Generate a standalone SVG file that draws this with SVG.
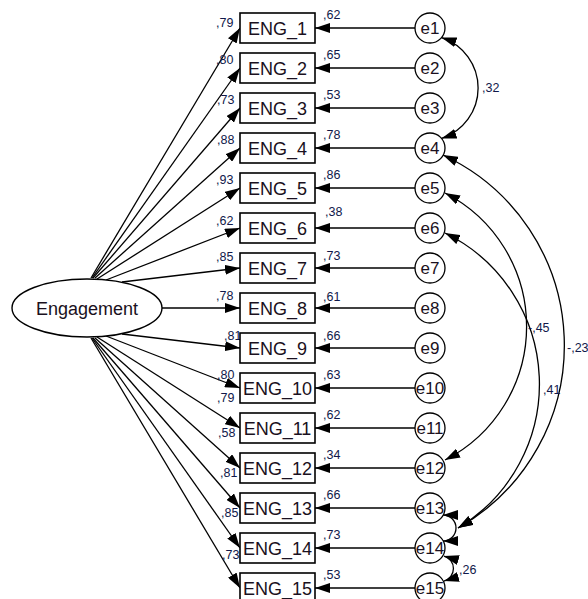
<svg xmlns="http://www.w3.org/2000/svg" width="588" height="599" viewBox="0 0 588 599">
<style>
.bg{fill:#fff}
.ln{stroke:#000;stroke-width:1.3;fill:none}
.box{fill:#fff;stroke:#000;stroke-width:1.6}
.err{fill:#fff;stroke:#000;stroke-width:1.3}
.lat{fill:#fff;stroke:#000;stroke-width:1.4}
.nm{font-family:"Liberation Sans",Arial,sans-serif;font-size:18px;fill:#1a1020;text-anchor:middle}
.en{font-family:"Liberation Sans",Arial,sans-serif;font-size:17px;fill:#1a1020;text-anchor:middle}
.v{font-family:"Liberation Sans",Arial,sans-serif;font-size:12.5px;fill:#10184a}
</style>
<defs>
<marker id="ah" viewBox="0 0 15 10" refX="15" refY="5" markerWidth="15" markerHeight="10" markerUnits="userSpaceOnUse" orient="auto-start-reverse">
<path d="M0,0 L15,5 L0,10 z" fill="#000"/>
</marker>
</defs>
<rect class="bg" x="0" y="0" width="588" height="599"/>
<g id="connectors">
<g id="loadings" class="ln" marker-end="url(#ah)">
<path d="M91,278 L240,28"/>
<path d="M92,278 L240,68"/>
<path d="M93,278 L240,108"/>
<path d="M95,278 L240,148"/>
<path d="M97,279 L240,188"/>
<path d="M106,280 L240,228"/>
<path d="M122,282 L240,268"/>
<path d="M162,308 L240,308"/>
<path d="M122,334 L240,348"/>
<path d="M106,336 L240,388"/>
<path d="M97,337 L240,428"/>
<path d="M95,338 L240,468"/>
<path d="M93,338 L240,508"/>
<path d="M92,338 L240,548"/>
<path d="M91,338 L240,588"/>
</g>
<g id="errors" class="ln" marker-end="url(#ah)">
<path d="M415,28 L315,28"/>
<path d="M415,68 L315,68"/>
<path d="M415,108 L315,108"/>
<path d="M415,148 L315,148"/>
<path d="M415,188 L315,188"/>
<path d="M415,228 L315,228"/>
<path d="M415,268 L315,268"/>
<path d="M415,308 L315,308"/>
<path d="M415,348 L315,348"/>
<path d="M415,388 L315,388"/>
<path d="M415,428 L315,428"/>
<path d="M415,468 L315,468"/>
<path d="M415,508 L315,508"/>
<path d="M415,548 L315,548"/>
<path d="M415,588 L315,588"/>
</g>
<g id="covariances" class="ln" marker-start="url(#ah)" marker-end="url(#ah)">
<path d="M441.5,37.6 A53,53 0 0 1 441.5,138.4"/>
<path d="M443,155 A210,210 0 0 1 458,528"/>
<path d="M445,193 A150,150 0 0 1 445,460"/>
<path d="M445,233 A168,168 0 0 1 458,528"/>
<path d="M443,515 A13,13 0 0 1 443,541"/>
<path d="M444,556 A13,13 0 0 1 444,581"/>
</g>
<g id="coef-labels">
<text class="v" x="482" y="92">,32</text>
<text class="v" x="528" y="332">-,45</text>
<text class="v" x="543" y="394">,41</text>
<text class="v" x="567" y="352">-,23</text>
<text class="v" x="459" y="574">,26</text>
</g>
<g id="loading-labels">
<text class="v" x="216" y="27">,79</text>
<text class="v" x="216" y="64">,80</text>
<text class="v" x="217" y="104">,73</text>
<text class="v" x="217" y="144">,88</text>
<text class="v" x="216" y="184">,93</text>
<text class="v" x="216" y="225">,62</text>
<text class="v" x="216" y="261">,85</text>
<text class="v" x="216" y="300">,78</text>
<text class="v" x="224" y="340">,81</text>
<text class="v" x="217" y="379">,80</text>
<text class="v" x="217" y="402">,79</text>
<text class="v" x="218" y="437">,58</text>
<text class="v" x="220" y="477">,81</text>
<text class="v" x="221" y="517">,85</text>
<text class="v" x="222" y="559">,73</text>
</g>
</g>
<g id="Engagement">
<ellipse class="lat" cx="87" cy="308" rx="75" ry="29"/>
<text class="nm" x="87" y="314.5">Engagement</text>
</g>
<g id="ENG_1"><rect class="box" x="240" y="13" width="75" height="30"/><text class="nm" x="277.5" y="34.5">ENG_1</text><text class="v" x="323" y="19">,62</text></g>
<g id="ENG_2"><rect class="box" x="240" y="53" width="75" height="30"/><text class="nm" x="277.5" y="74.5">ENG_2</text><text class="v" x="323" y="59">,65</text></g>
<g id="ENG_3"><rect class="box" x="240" y="93" width="75" height="30"/><text class="nm" x="277.5" y="114.5">ENG_3</text><text class="v" x="323" y="99">,53</text></g>
<g id="ENG_4"><rect class="box" x="240" y="133" width="75" height="30"/><text class="nm" x="277.5" y="154.5">ENG_4</text><text class="v" x="323" y="139">,78</text></g>
<g id="ENG_5"><rect class="box" x="240" y="173" width="75" height="30"/><text class="nm" x="277.5" y="194.5">ENG_5</text><text class="v" x="323" y="179">,86</text></g>
<g id="ENG_6"><rect class="box" x="240" y="213" width="75" height="30"/><text class="nm" x="277.5" y="234.5">ENG_6</text><text class="v" x="325" y="216">,38</text></g>
<g id="ENG_7"><rect class="box" x="240" y="253" width="75" height="30"/><text class="nm" x="277.5" y="274.5">ENG_7</text><text class="v" x="323" y="260">,73</text></g>
<g id="ENG_8"><rect class="box" x="240" y="293" width="75" height="30"/><text class="nm" x="277.5" y="314.5">ENG_8</text><text class="v" x="323" y="301">,61</text></g>
<g id="ENG_9"><rect class="box" x="240" y="333" width="75" height="30"/><text class="nm" x="277.5" y="354.5">ENG_9</text><text class="v" x="323" y="340">,66</text></g>
<g id="ENG_10"><rect class="box" x="240" y="373" width="75" height="30"/><text class="nm" x="277.5" y="394.5">ENG_10</text><text class="v" x="323" y="379">,63</text></g>
<g id="ENG_11"><rect class="box" x="240" y="413" width="75" height="30"/><text class="nm" x="277.5" y="434.5">ENG_11</text><text class="v" x="323" y="419">,62</text></g>
<g id="ENG_12"><rect class="box" x="240" y="453" width="75" height="30"/><text class="nm" x="277.5" y="474.5">ENG_12</text><text class="v" x="323" y="459">,34</text></g>
<g id="ENG_13"><rect class="box" x="240" y="493" width="75" height="30"/><text class="nm" x="277.5" y="514.5">ENG_13</text><text class="v" x="323" y="499">,66</text></g>
<g id="ENG_14"><rect class="box" x="240" y="533" width="75" height="30"/><text class="nm" x="277.5" y="554.5">ENG_14</text><text class="v" x="323" y="539">,73</text></g>
<g id="ENG_15"><rect class="box" x="240" y="573" width="75" height="30"/><text class="nm" x="277.5" y="594.5">ENG_15</text><text class="v" x="323" y="579">,53</text></g>
<g id="e1"><circle class="err" cx="430" cy="28" r="15"/><text class="en" x="430" y="34">e1</text></g>
<g id="e2"><circle class="err" cx="430" cy="68" r="15"/><text class="en" x="430" y="74">e2</text></g>
<g id="e3"><circle class="err" cx="430" cy="108" r="15"/><text class="en" x="430" y="114">e3</text></g>
<g id="e4"><circle class="err" cx="430" cy="148" r="15"/><text class="en" x="430" y="154">e4</text></g>
<g id="e5"><circle class="err" cx="430" cy="188" r="15"/><text class="en" x="430" y="194">e5</text></g>
<g id="e6"><circle class="err" cx="430" cy="228" r="15"/><text class="en" x="430" y="234">e6</text></g>
<g id="e7"><circle class="err" cx="430" cy="268" r="15"/><text class="en" x="430" y="274">e7</text></g>
<g id="e8"><circle class="err" cx="430" cy="308" r="15"/><text class="en" x="430" y="314">e8</text></g>
<g id="e9"><circle class="err" cx="430" cy="348" r="15"/><text class="en" x="430" y="354">e9</text></g>
<g id="e10"><circle class="err" cx="430" cy="388" r="15"/><text class="en" x="430" y="394">e10</text></g>
<g id="e11"><circle class="err" cx="430" cy="428" r="15"/><text class="en" x="430" y="434">e11</text></g>
<g id="e12"><circle class="err" cx="430" cy="468" r="15"/><text class="en" x="430" y="474">e12</text></g>
<g id="e13"><circle class="err" cx="430" cy="508" r="15"/><text class="en" x="430" y="514">e13</text></g>
<g id="e14"><circle class="err" cx="430" cy="548" r="15"/><text class="en" x="430" y="554">e14</text></g>
<g id="e15"><circle class="err" cx="430" cy="588" r="15"/><text class="en" x="430" y="594">e15</text></g>
</svg>
